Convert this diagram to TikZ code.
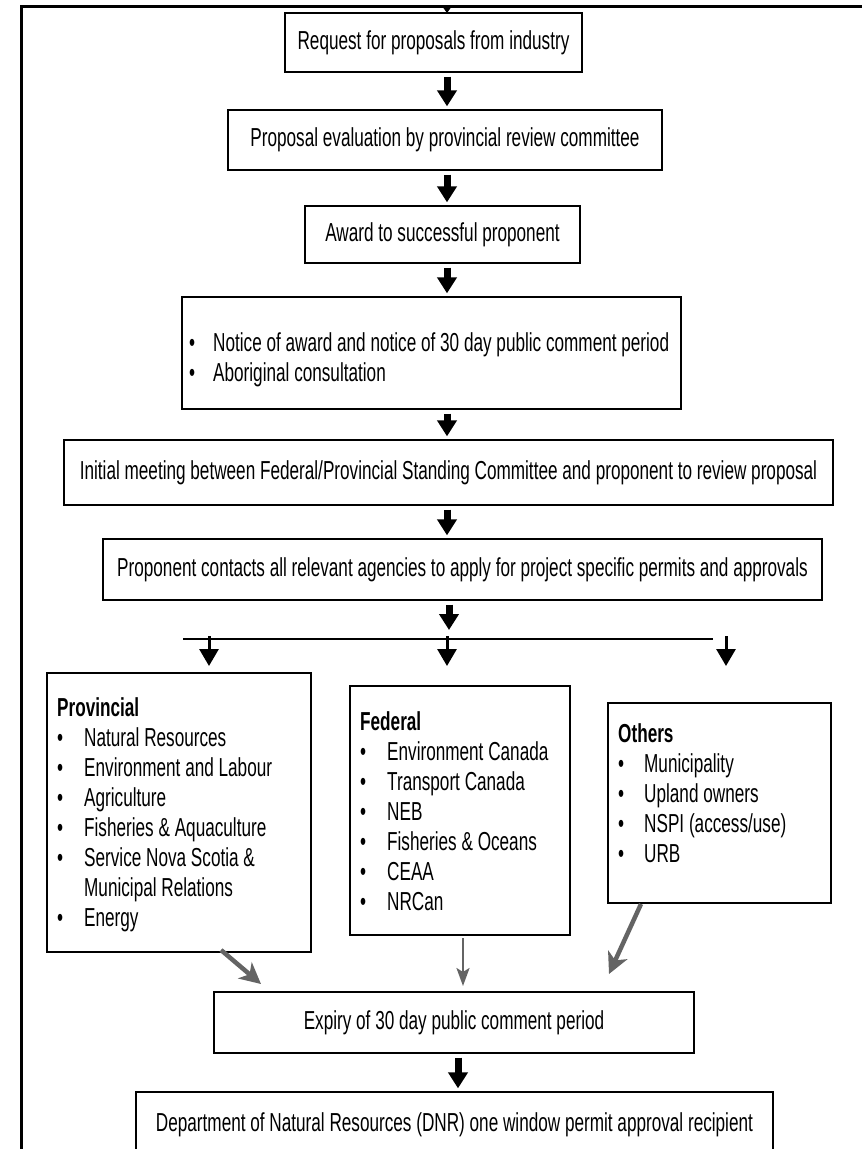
\documentclass[tikz,border=0pt]{standalone}
\usepackage{fontspec}
\setmainfont{Liberation Sans}[FakeStretch=0.66]
\usetikzlibrary{arrows.meta,calc}
\definecolor{arrowgray}{RGB}{100,100,100}
\begin{document}
\begin{tikzpicture}[x=1pt,y=-1pt,
  flowbox/.style={draw=black,line width=1.3pt,inner sep=0pt,font=\fontsize{26}{30}\selectfont},
  listtxt/.style={inner sep=0pt,anchor=base west,font=\fontsize{26}{30}\selectfont},
  bigarrow/.style={line width=7pt,-{Triangle[width=19pt,length=16pt]},shorten <=4pt,shorten >=3pt},
  smallarrow/.style={line width=3pt,-{Triangle[width=19pt,length=17pt]}},
  grayarrow/.style={draw=arrowgray,line width=4.5pt,-{Stealth[width=21pt,length=21pt,inset=6pt]}},
  thingray/.style={draw=arrowgray,line width=2.5pt,-{Stealth[width=13pt,length=18pt,inset=4pt]}},
]
\useasboundingbox (0,0) rectangle (862,1149);
% outer frame
\draw[line width=3pt] (21,1149) -- (21,6) -- (862,6);
\fill (442,6) -- (452,6) -- (447,13) -- cycle;

% main chain
\node[flowbox,minimum width=297pt,minimum height=59pt] (b1) at (433.5,42.5) {Request for proposals from industry};
\node[flowbox,minimum width=434pt,minimum height=60pt] (b2) at (445,140) {Proposal evaluation by provincial review committee};
\node[flowbox,minimum width=275pt,minimum height=57pt] (b3) at (442.5,234.5) {Award to successful proponent};
\node[flowbox,minimum width=499pt,minimum height=112pt] (b4) at (431.5,353) {};
\node[listtxt] (b4t) at (189,351) {\begin{tabular}[t]{@{}p{24pt}@{}l@{}}
\textbullet & Notice of award and notice of 30 day public comment period\\
\textbullet & Aboriginal consultation
\end{tabular}};
\node[flowbox,minimum width=769pt,minimum height=65pt] (b5) at (448.5,472.5) {Initial meeting between Federal/Provincial Standing Committee and proponent to review proposal};
\node[flowbox,minimum width=719pt,minimum height=61pt] (b6) at (462.5,569.5) {Proponent contacts all relevant agencies to apply for project specific permits and approvals};

\coordinate (ax) at (447,0);
\coordinate (ax6) at (449,0);
\draw[bigarrow] (b1.south -| ax) -- (b2.north -| ax);
\draw[bigarrow] (b2.south -| ax) -- (b3.north -| ax);
\draw[bigarrow] (b3.south -| ax) -- (b4.north -| ax);
\draw[bigarrow] (b4.south -| ax) -- (b5.north -| ax);
\draw[bigarrow] (b5.south -| ax) -- (b6.north -| ax);
\coordinate (t6) at (449,630);
\draw[bigarrow,shorten >=0pt] (b6.south -| ax6) -- (t6);

% distribution line
\coordinate (hl) at (183,639);
\coordinate (hr) at (713,639);
\draw[line width=2pt] (hl) -- (hr);
\coordinate (s1) at (209,636); \coordinate (e1) at (209,666);
\coordinate (s2) at (447,636); \coordinate (e2) at (447,666);
\coordinate (s3) at (726,636); \coordinate (e3) at (726,666);
\draw[smallarrow] (s1) -- (e1);
\draw[smallarrow] (s2) -- (e2);
\draw[smallarrow] (s3) -- (e3);

% agency boxes
\node[flowbox,minimum width=264pt,minimum height=279pt] (prov) at (179,812.5) {};
\node[listtxt] (provt) at (57,716) {\begin{tabular}[t]{@{}p{27pt}@{}l@{}}
\multicolumn{2}{@{}l@{}}{\textbf{Provincial}}\\
\textbullet & Natural Resources\\
\textbullet & Environment and Labour\\
\textbullet & Agriculture\\
\textbullet & Fisheries \& Aquaculture\\
\textbullet & Service Nova Scotia \&\\
 & Municipal Relations\\
\textbullet & Energy
\end{tabular}};

\node[flowbox,minimum width=220pt,minimum height=249pt] (fed) at (460,810.5) {};
\node[listtxt] (fedt) at (360,730) {\begin{tabular}[t]{@{}p{27pt}@{}l@{}}
\multicolumn{2}{@{}l@{}}{\textbf{Federal}}\\
\textbullet & Environment Canada\\
\textbullet & Transport Canada\\
\textbullet & NEB\\
\textbullet & Fisheries \& Oceans\\
\textbullet & CEAA\\
\textbullet & NRCan
\end{tabular}};

\node[flowbox,minimum width=223pt,minimum height=200pt] (oth) at (719.5,803) {};
\node[listtxt] (otht) at (618,742) {\begin{tabular}[t]{@{}p{26pt}@{}l@{}}
\multicolumn{2}{@{}l@{}}{\textbf{Others}}\\
\textbullet & Municipality\\
\textbullet & Upland owners\\
\textbullet & NSPI (access/use)\\
\textbullet & URB
\end{tabular}};

% expiry and DNR
\node[flowbox,minimum width=480pt,minimum height=61pt] (exp) at (454,1022.5) {Expiry of 30 day public comment period};
\node[flowbox,minimum width=637pt,minimum height=66pt] (dnr) at (454.5,1125) {Department of Natural Resources (DNR) one window permit approval recipient};
\coordinate (axb) at (458,0);
\draw[bigarrow] (exp.south -| axb) -- (dnr.north -| axb);

% gray converging arrows
\coordinate (g1s) at (221,950); \coordinate (g1e) at (261,984);
\coordinate (g2s) at (463,938); \coordinate (g2e) at (463,986);
\coordinate (g3s) at (641,904); \coordinate (g3e) at (609,974);
\draw[grayarrow] (g1s) -- (g1e);
\draw[thingray] (g2s) -- (g2e);
\draw[grayarrow] (g3s) -- (g3e);
\end{tikzpicture}
\end{document}
